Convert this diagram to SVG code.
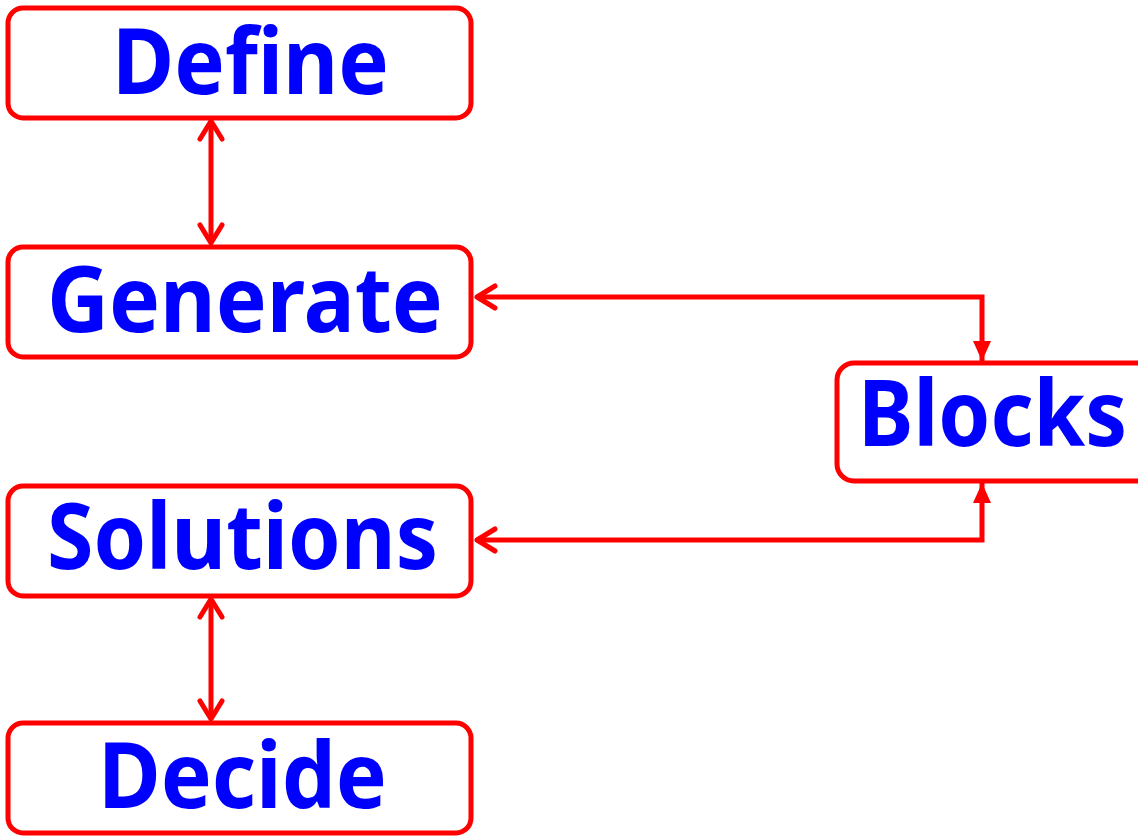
<svg xmlns="http://www.w3.org/2000/svg" width="1138" height="836" viewBox="0 0 1138 836">
<style>
.box{fill:#fff;stroke:#ff0000;stroke-width:5}
.lbl{font-family:"Noto Sans","Open Sans","DejaVu Sans",sans-serif;font-weight:bold;font-size:92px;fill:#0000ff}
.con{fill:none;stroke:#ff0000;stroke-width:5}
</style>
<defs>
<marker id="open" markerUnits="userSpaceOnUse" markerWidth="40" markerHeight="40" viewBox="-30 -20 40 40" refX="0" refY="0" orient="auto-start-reverse" overflow="visible">
<path d="M-18,-11 L0,0 L-18,11" fill="none" stroke="#ff0000" stroke-width="5" stroke-linecap="round" stroke-linejoin="round"/>
</marker>
<marker id="tri" markerUnits="userSpaceOnUse" markerWidth="40" markerHeight="40" viewBox="-30 -20 40 40" refX="0" refY="0" orient="auto" overflow="visible">
<path d="M-20,-9 L0,0 L-20,9 Z" fill="#ff0000"/>
</marker>
</defs>
<g id="connectors">
<path class="con" d="M211,121 L211,243" marker-start="url(#open)" marker-end="url(#open)"/>
<path class="con" d="M211,599 L211,719" marker-start="url(#open)" marker-end="url(#open)"/>
<path class="con" d="M477,297 L982,297 L982,361" marker-start="url(#open)" marker-end="url(#tri)"/>
<path class="con" d="M477,540 L982,540 L982,483" marker-start="url(#open)" marker-end="url(#tri)"/>
</g>
<g id="define">
<rect class="box" x="8" y="8" width="463" height="110" rx="15"/>
<text class="lbl" x="112" y="94" textLength="277" lengthAdjust="spacingAndGlyphs">Define</text>
</g>
<g id="generate">
<rect class="box" x="8" y="247" width="463" height="110" rx="15"/>
<text class="lbl" x="47" y="332" textLength="396" lengthAdjust="spacingAndGlyphs">Generate</text>
</g>
<g id="solutions">
<rect class="box" x="8" y="486" width="463" height="110" rx="15"/>
<text class="lbl" x="47" y="569" textLength="391" lengthAdjust="spacingAndGlyphs">Solutions</text>
</g>
<g id="decide">
<rect class="box" x="8" y="723" width="463" height="110" rx="15"/>
<text class="lbl" x="98" y="808" textLength="289" lengthAdjust="spacingAndGlyphs">Decide</text>
</g>
<g id="blocks">
<rect class="box" x="837" y="363" width="320" height="118" rx="17"/>
<text class="lbl" x="858" y="446" textLength="269" lengthAdjust="spacingAndGlyphs">Blocks</text>
</g>
</svg>
